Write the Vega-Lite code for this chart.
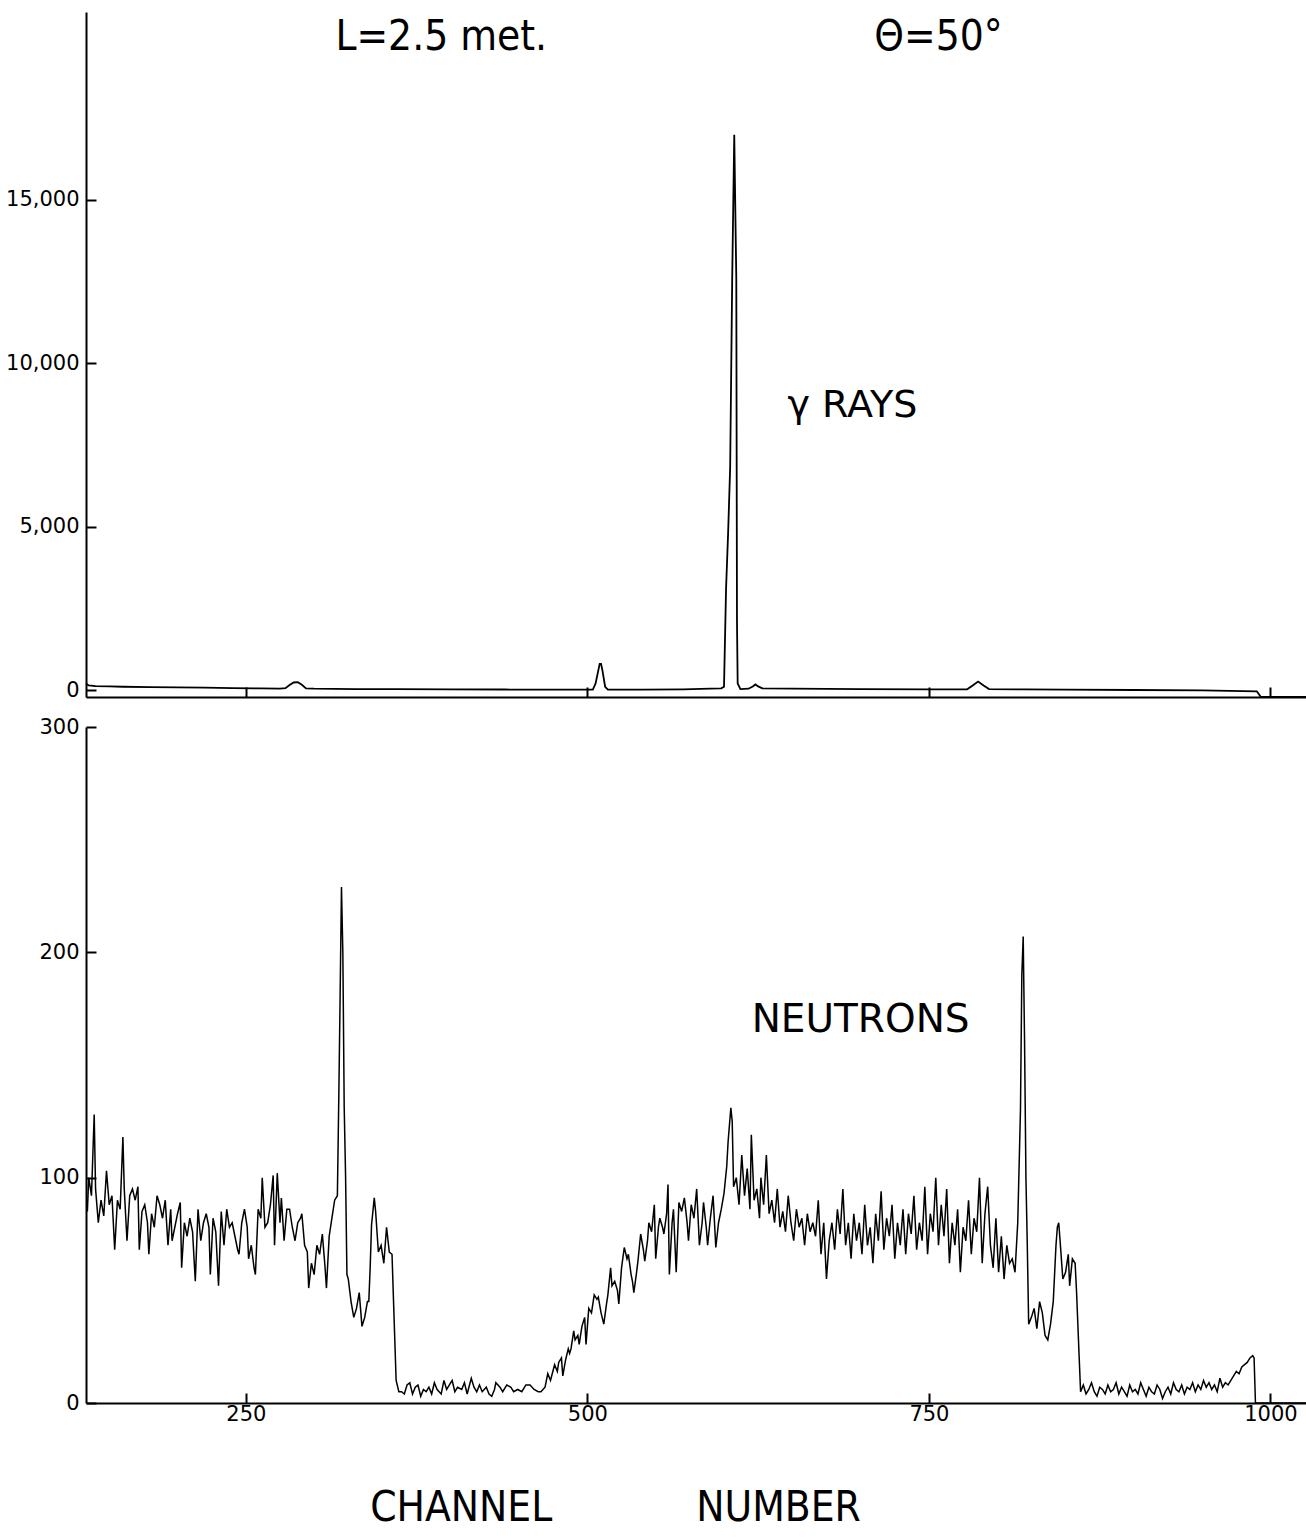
{
"$schema": "https://vega.github.io/schema/vega-lite/v6.json",
"background": "white",
"padding": {"left": 5, "top": 12, "right": 0, "bottom": 5},
"spacing": 15,
"config": {
  "view": {"stroke": null},
  "axis": {"domainColor": "black", "domainWidth": 2, "tickColor": "black", "tickWidth": 2, "tickSize": -10, "labelColor": "black", "labelFont": "DejaVu Sans", "labelFontSize": 21, "labelPadding": 10, "grid": false},
  "axisY": {"labelPadding": 17}
},
"datasets": {
  "gamma": [
    {"channel":133,"counts":200},{"channel":135,"counts":140},{"channel":140,"counts":120},{"channel":150,"counts":110},{"channel":160,"counts":100},{"channel":180,"counts":90},{"channel":200,"counts":80},{"channel":220,"counts":70},{"channel":240,"counts":60},{"channel":260,"counts":50},{"channel":275,"counts":45},{"channel":279,"counts":55},{"channel":282,"counts":150},{"channel":285,"counts":230},{"channel":288,"counts":240},{"channel":291,"counts":160},{"channel":294,"counts":50},{"channel":300,"counts":40},{"channel":330,"counts":30},{"channel":360,"counts":25},{"channel":400,"counts":20},{"channel":440,"counts":15},{"channel":480,"counts":10},{"channel":504,"counts":10},{"channel":506,"counts":200},{"channel":508,"counts":600},{"channel":509,"counts":800},{"channel":510,"counts":800},{"channel":511,"counts":600},{"channel":513,"counts":100},{"channel":515,"counts":10},{"channel":540,"counts":10},{"channel":570,"counts":20},{"channel":590,"counts":40},{"channel":598,"counts":50},{"channel":600,"counts":100},{"channel":601.5,"counts":3100},{"channel":603,"counts":4800},{"channel":604.5,"counts":6800},{"channel":606,"counts":12600},{"channel":607.5,"counts":17000},{"channel":609,"counts":12600},{"channel":609.5,"counts":2100},{"channel":610,"counts":200},{"channel":612,"counts":30},{"channel":618,"counts":40},{"channel":621,"counts":110},{"channel":623,"counts":170},{"channel":625,"counts":110},{"channel":628,"counts":50},{"channel":650,"counts":40},{"channel":700,"counts":30},{"channel":750,"counts":20},{"channel":778,"counts":20},{"channel":782,"counts":140},{"channel":786,"counts":260},{"channel":790,"counts":140},{"channel":794,"counts":30},{"channel":820,"counts":20},{"channel":850,"counts":10},{"channel":900,"counts":0},{"channel":950,"counts":-10},{"channel":990,"counts":-40},{"channel":993,"counts":-214},{"channel":1026,"counts":-214}
  ],
  "neutron": [
    {"channel":134,"counts":85},{"channel":135,"counts":100},{"channel":137,"counts":92},{"channel":139,"counts":128},{"channel":140,"counts":95},{"channel":142,"counts":80},{"channel":144,"counts":90},{"channel":146,"counts":83},{"channel":148,"counts":103},{"channel":150,"counts":88},{"channel":152,"counts":92},{"channel":154,"counts":68},{"channel":156,"counts":90},{"channel":158,"counts":86},{"channel":160,"counts":118},{"channel":161,"counts":95},{"channel":163,"counts":72},{"channel":165,"counts":92},{"channel":167,"counts":95},{"channel":169,"counts":90},{"channel":171,"counts":96},{"channel":172,"counts":68},{"channel":174,"counts":85},{"channel":176,"counts":88},{"channel":178,"counts":80},{"channel":179,"counts":66},{"channel":181,"counts":84},{"channel":183,"counts":78},{"channel":185,"counts":92},{"channel":187,"counts":88},{"channel":189,"counts":82},{"channel":191,"counts":90},{"channel":193,"counts":70},{"channel":195,"counts":86},{"channel":196,"counts":72},{"channel":198,"counts":78},{"channel":200,"counts":84},{"channel":202,"counts":89},{"channel":203,"counts":60},{"channel":205,"counts":80},{"channel":207,"counts":74},{"channel":209,"counts":82},{"channel":211,"counts":76},{"channel":213,"counts":54},{"channel":215,"counts":86},{"channel":217,"counts":72},{"channel":219,"counts":80},{"channel":221,"counts":84},{"channel":223,"counts":78},{"channel":224,"counts":57},{"channel":226,"counts":82},{"channel":228,"counts":76},{"channel":230,"counts":52},{"channel":232,"counts":85},{"channel":234,"counts":70},{"channel":236,"counts":86},{"channel":238,"counts":78},{"channel":240,"counts":80},{"channel":242,"counts":74},{"channel":244,"counts":68},{"channel":245,"counts":66},{"channel":247,"counts":80},{"channel":249,"counts":86},{"channel":251,"counts":78},{"channel":252,"counts":64},{"channel":254,"counts":70},{"channel":256,"counts":60},{"channel":257,"counts":57},{"channel":259,"counts":86},{"channel":261,"counts":82},{"channel":262,"counts":100},{"channel":264,"counts":78},{"channel":266,"counts":80},{"channel":268,"counts":88},{"channel":270,"counts":101},{"channel":271,"counts":70},{"channel":273,"counts":102},{"channel":275,"counts":80},{"channel":276,"counts":91},{"channel":278,"counts":72},{"channel":280,"counts":86},{"channel":282,"counts":86},{"channel":284,"counts":78},{"channel":286,"counts":72},{"channel":288,"counts":80},{"channel":290,"counts":82},{"channel":291,"counts":84},{"channel":293,"counts":70},{"channel":295,"counts":67},{"channel":296,"counts":51},{"channel":298,"counts":62},{"channel":300,"counts":57},{"channel":302,"counts":70},{"channel":304,"counts":66},{"channel":306,"counts":75},{"channel":308,"counts":60},{"channel":309,"counts":51},{"channel":311,"counts":74},{"channel":313,"counts":82},{"channel":315,"counts":90},{"channel":317,"counts":92},{"channel":318,"counts":134},{"channel":319,"counts":180},{"channel":320,"counts":229},{"channel":321,"counts":200},{"channel":322,"counts":131},{"channel":323,"counts":101},{"channel":324,"counts":57},{"channel":325,"counts":55},{"channel":327,"counts":45},{"channel":329,"counts":38},{"channel":331,"counts":42},{"channel":333,"counts":49},{"channel":335,"counts":34},{"channel":337,"counts":38},{"channel":339,"counts":45},{"channel":340,"counts":45},{"channel":341,"counts":60},{"channel":342,"counts":79},{"channel":344,"counts":91},{"channel":345,"counts":85},{"channel":347,"counts":67},{"channel":349,"counts":70},{"channel":351,"counts":62},{"channel":353,"counts":78},{"channel":355,"counts":67},{"channel":357,"counts":66},{"channel":358,"counts":47},{"channel":360,"counts":10},{"channel":362,"counts":5},{"channel":364,"counts":5},{"channel":366,"counts":4},{"channel":368,"counts":8},{"channel":370,"counts":9},{"channel":372,"counts":4},{"channel":374,"counts":7},{"channel":376,"counts":8},{"channel":378,"counts":3},{"channel":380,"counts":6},{"channel":382,"counts":5},{"channel":384,"counts":7},{"channel":386,"counts":4},{"channel":388,"counts":9},{"channel":390,"counts":6},{"channel":393,"counts":4},{"channel":395,"counts":10},{"channel":397,"counts":6},{"channel":399,"counts":8},{"channel":401,"counts":10},{"channel":403,"counts":5},{"channel":405,"counts":7},{"channel":408,"counts":6},{"channel":410,"counts":9},{"channel":412,"counts":4},{"channel":415,"counts":11},{"channel":417,"counts":7},{"channel":419,"counts":5},{"channel":421,"counts":8},{"channel":423,"counts":5},{"channel":426,"counts":7},{"channel":428,"counts":4},{"channel":430,"counts":3},{"channel":432,"counts":6},{"channel":433,"counts":9},{"channel":436,"counts":7},{"channel":438,"counts":5},{"channel":441,"counts":8},{"channel":444,"counts":7},{"channel":446,"counts":5},{"channel":449,"counts":6},{"channel":452,"counts":5},{"channel":455,"counts":8},{"channel":458,"counts":8},{"channel":461,"counts":6},{"channel":464,"counts":5},{"channel":466,"counts":5},{"channel":469,"counts":7},{"channel":471,"counts":13},{"channel":473,"counts":10},{"channel":476,"counts":17},{"channel":478,"counts":14},{"channel":479,"counts":18},{"channel":481,"counts":20},{"channel":482,"counts":12},{"channel":484,"counts":19},{"channel":486,"counts":24},{"channel":487,"counts":22},{"channel":488,"counts":24},{"channel":490,"counts":32},{"channel":491,"counts":28},{"channel":493,"counts":30},{"channel":494,"counts":26},{"channel":496,"counts":34},{"channel":498,"counts":38},{"channel":499,"counts":26},{"channel":501,"counts":42},{"channel":503,"counts":40},{"channel":505,"counts":48},{"channel":507,"counts":46},{"channel":508,"counts":47},{"channel":510,"counts":40},{"channel":512,"counts":35},{"channel":514,"counts":44},{"channel":515,"counts":48},{"channel":517,"counts":60},{"channel":518,"counts":52},{"channel":520,"counts":54},{"channel":522,"counts":50},{"channel":523,"counts":44},{"channel":525,"counts":60},{"channel":527,"counts":69},{"channel":529,"counts":64},{"channel":530,"counts":66},{"channel":532,"counts":57},{"channel":533,"counts":54},{"channel":534,"counts":49},{"channel":536,"counts":58},{"channel":537,"counts":63},{"channel":539,"counts":75},{"channel":541,"counts":68},{"channel":542,"counts":63},{"channel":544,"counts":72},{"channel":545,"counts":80},{"channel":547,"counts":76},{"channel":549,"counts":88},{"channel":550,"counts":64},{"channel":552,"counts":78},{"channel":553,"counts":82},{"channel":555,"counts":78},{"channel":556,"counts":75},{"channel":558,"counts":84},{"channel":559,"counts":97},{"channel":560,"counts":57},{"channel":562,"counts":80},{"channel":563,"counts":86},{"channel":565,"counts":58},{"channel":567,"counts":89},{"channel":569,"counts":85},{"channel":571,"counts":91},{"channel":573,"counts":80},{"channel":574,"counts":72},{"channel":576,"counts":88},{"channel":578,"counts":82},{"channel":580,"counts":95},{"channel":582,"counts":70},{"channel":584,"counts":80},{"channel":585,"counts":89},{"channel":587,"counts":78},{"channel":588,"counts":70},{"channel":590,"counts":82},{"channel":592,"counts":92},{"channel":594,"counts":69},{"channel":596,"counts":80},{"channel":598,"counts":86},{"channel":600,"counts":93},{"channel":602,"counts":105},{"channel":603,"counts":116},{"channel":605,"counts":131},{"channel":606,"counts":125},{"channel":607,"counts":96},{"channel":609,"counts":100},{"channel":611,"counts":88},{"channel":613,"counts":110},{"channel":615,"counts":92},{"channel":617,"counts":104},{"channel":619,"counts":86},{"channel":620,"counts":119},{"channel":622,"counts":90},{"channel":624,"counts":95},{"channel":626,"counts":82},{"channel":627,"counts":100},{"channel":629,"counts":88},{"channel":631,"counts":110},{"channel":633,"counts":84},{"channel":635,"counts":90},{"channel":637,"counts":80},{"channel":639,"counts":95},{"channel":641,"counts":78},{"channel":643,"counts":85},{"channel":645,"counts":76},{"channel":647,"counts":92},{"channel":649,"counts":80},{"channel":651,"counts":72},{"channel":653,"counts":86},{"channel":655,"counts":78},{"channel":657,"counts":82},{"channel":659,"counts":70},{"channel":661,"counts":84},{"channel":663,"counts":76},{"channel":665,"counts":80},{"channel":667,"counts":74},{"channel":669,"counts":90},{"channel":671,"counts":66},{"channel":673,"counts":80},{"channel":675,"counts":55},{"channel":677,"counts":72},{"channel":679,"counts":80},{"channel":681,"counts":68},{"channel":683,"counts":86},{"channel":685,"counts":75},{"channel":687,"counts":95},{"channel":689,"counts":70},{"channel":691,"counts":80},{"channel":693,"counts":64},{"channel":695,"counts":84},{"channel":697,"counts":72},{"channel":699,"counts":80},{"channel":701,"counts":66},{"channel":703,"counts":88},{"channel":705,"counts":70},{"channel":707,"counts":78},{"channel":709,"counts":62},{"channel":711,"counts":84},{"channel":713,"counts":72},{"channel":715,"counts":94},{"channel":717,"counts":68},{"channel":719,"counts":82},{"channel":721,"counts":74},{"channel":723,"counts":88},{"channel":725,"counts":64},{"channel":727,"counts":80},{"channel":729,"counts":70},{"channel":731,"counts":86},{"channel":733,"counts":66},{"channel":735,"counts":84},{"channel":737,"counts":75},{"channel":739,"counts":92},{"channel":741,"counts":68},{"channel":743,"counts":80},{"channel":745,"counts":72},{"channel":747,"counts":96},{"channel":749,"counts":66},{"channel":751,"counts":84},{"channel":753,"counts":76},{"channel":755,"counts":100},{"channel":757,"counts":70},{"channel":759,"counts":88},{"channel":761,"counts":74},{"channel":763,"counts":95},{"channel":765,"counts":62},{"channel":767,"counts":80},{"channel":769,"counts":70},{"channel":771,"counts":86},{"channel":773,"counts":58},{"channel":775,"counts":78},{"channel":777,"counts":72},{"channel":779,"counts":90},{"channel":781,"counts":66},{"channel":783,"counts":82},{"channel":785,"counts":76},{"channel":787,"counts":100},{"channel":789,"counts":62},{"channel":791,"counts":84},{"channel":793,"counts":96},{"channel":795,"counts":70},{"channel":797,"counts":60},{"channel":799,"counts":82},{"channel":801,"counts":58},{"channel":803,"counts":74},{"channel":805,"counts":55},{"channel":807,"counts":70},{"channel":809,"counts":62},{"channel":811,"counts":64},{"channel":813,"counts":58},{"channel":815,"counts":80},{"channel":817,"counts":130},{"channel":818,"counts":190},{"channel":819,"counts":207},{"channel":820,"counts":160},{"channel":821,"counts":100},{"channel":822,"counts":70},{"channel":823,"counts":35},{"channel":825,"counts":38},{"channel":827,"counts":42},{"channel":829,"counts":33},{"channel":831,"counts":45},{"channel":833,"counts":40},{"channel":835,"counts":30},{"channel":837,"counts":28},{"channel":839,"counts":35},{"channel":841,"counts":45},{"channel":843,"counts":70},{"channel":844,"counts":78},{"channel":845,"counts":80},{"channel":846,"counts":72},{"channel":848,"counts":55},{"channel":850,"counts":58},{"channel":852,"counts":66},{"channel":853,"counts":52},{"channel":855,"counts":64},{"channel":857,"counts":62},{"channel":858,"counts":50},{"channel":860,"counts":20},{"channel":861,"counts":5},{"channel":863,"counts":8},{"channel":865,"counts":4},{"channel":867,"counts":6},{"channel":869,"counts":9},{"channel":871,"counts":5},{"channel":873,"counts":3},{"channel":875,"counts":7},{"channel":877,"counts":6},{"channel":879,"counts":4},{"channel":881,"counts":8},{"channel":883,"counts":5},{"channel":885,"counts":6},{"channel":887,"counts":9},{"channel":889,"counts":4},{"channel":891,"counts":7},{"channel":893,"counts":5},{"channel":895,"counts":3},{"channel":897,"counts":8},{"channel":899,"counts":5},{"channel":901,"counts":6},{"channel":903,"counts":4},{"channel":905,"counts":9},{"channel":907,"counts":6},{"channel":909,"counts":3},{"channel":911,"counts":7},{"channel":913,"counts":5},{"channel":915,"counts":4},{"channel":917,"counts":8},{"channel":919,"counts":6},{"channel":921,"counts":2},{"channel":923,"counts":5},{"channel":925,"counts":7},{"channel":927,"counts":4},{"channel":929,"counts":9},{"channel":931,"counts":6},{"channel":933,"counts":5},{"channel":935,"counts":8},{"channel":937,"counts":4},{"channel":939,"counts":7},{"channel":941,"counts":6},{"channel":943,"counts":9},{"channel":945,"counts":5},{"channel":947,"counts":8},{"channel":949,"counts":6},{"channel":951,"counts":10},{"channel":953,"counts":7},{"channel":955,"counts":9},{"channel":957,"counts":6},{"channel":959,"counts":8},{"channel":961,"counts":5},{"channel":963,"counts":11},{"channel":965,"counts":7},{"channel":967,"counts":9},{"channel":969,"counts":8},{"channel":971,"counts":10},{"channel":973,"counts":12},{"channel":975,"counts":14},{"channel":977,"counts":13},{"channel":979,"counts":16},{"channel":981,"counts":17},{"channel":983,"counts":18},{"channel":985,"counts":20},{"channel":987,"counts":21},{"channel":988,"counts":20},{"channel":989,"counts":0},{"channel":1026,"counts":0}
  ],
  "notesTop": [
    {"channel": 393, "counts": 20000, "label": "L=2.5 met."},
    {"channel": 757, "counts": 20000, "label": "Θ=50°"}
  ],
  "notesGamma": [
    {"channel": 694, "counts": 8700, "label": "γ RAYS"}
  ],
  "notesNeutron": [
    {"channel": 700, "counts": 170, "label": "NEUTRONS"}
  ]
},
"vconcat": [
  {
    "width": 1220, "height": 685,
    "layer": [
      {
        "data": {"name": "gamma"},
        "mark": {"type": "line", "color": "black", "strokeWidth": 1.8},
        "encoding": {
          "x": {"field": "channel", "type": "quantitative", "scale": {"domain": [133, 1026], "nice": false, "zero": false}, "axis": {"values": [250, 500, 750, 1000], "labels": false, "title": null}},
          "y": {"field": "counts", "type": "quantitative", "scale": {"domain": [-214, 20754], "nice": false, "zero": false}, "axis": {"values": [0, 5000, 10000, 15000], "format": ",d", "title": null}}
        }
      },
      {
        "data": {"name": "notesTop"},
        "mark": {"type": "text", "font": "DejaVu Sans Condensed, Liberation Sans Narrow, Liberation Sans", "fontSize": 42, "color": "black", "align": "center", "baseline": "middle"},
        "encoding": {
          "x": {"field": "channel", "type": "quantitative"},
          "y": {"field": "counts", "type": "quantitative"},
          "text": {"field": "label"}
        }
      },
      {
        "data": {"name": "notesGamma"},
        "mark": {"type": "text", "font": "DejaVu Sans", "fontSize": 38, "color": "black", "align": "center", "baseline": "middle"},
        "encoding": {
          "x": {"field": "channel", "type": "quantitative"},
          "y": {"field": "counts", "type": "quantitative"},
          "text": {"field": "label"}
        }
      }
    ]
  },
  {
    "width": 1220, "height": 676,
    "layer": [
      {
        "data": {"name": "neutron"},
        "mark": {"type": "line", "color": "black", "strokeWidth": 1.5},
        "encoding": {
          "x": {"field": "channel", "type": "quantitative", "scale": {"domain": [133, 1026], "nice": false, "zero": false}, "axis": {"values": [250, 500, 750, 1000], "format": "d", "title": "CHANNEL\u00a0\u00a0\u00a0\u00a0\u00a0\u00a0\u00a0\u00a0\u00a0\u00a0\u00a0\u00a0NUMBER", "titleFont": "DejaVu Sans Condensed, Liberation Sans Narrow, Liberation Sans", "titleFontSize": 42, "titleFontWeight": "normal", "titleColor": "black", "titleX": 529, "titleY": 104, "titleAlign": "center", "titleBaseline": "middle"}},
          "y": {"field": "counts", "type": "quantitative", "scale": {"domain": [0, 300], "nice": false}, "axis": {"values": [0, 100, 200, 300], "title": null}}
        }
      },
      {
        "data": {"name": "notesNeutron"},
        "mark": {"type": "text", "font": "DejaVu Sans", "fontSize": 39, "color": "black", "align": "center", "baseline": "middle"},
        "encoding": {
          "x": {"field": "channel", "type": "quantitative"},
          "y": {"field": "counts", "type": "quantitative"},
          "text": {"field": "label"}
        }
      }
    ]
  }
]
}
